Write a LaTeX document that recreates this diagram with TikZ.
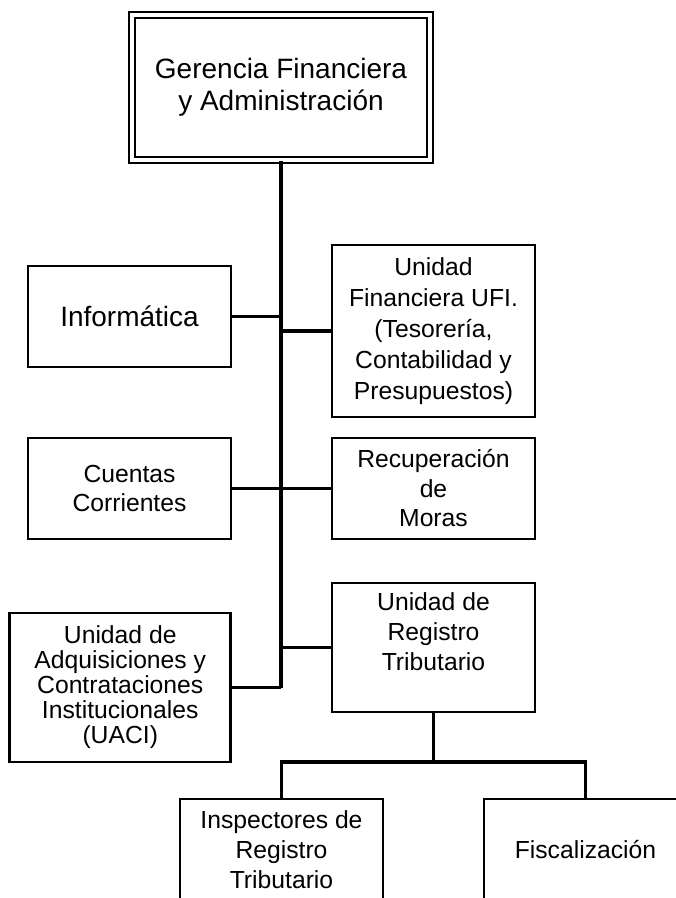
\documentclass[tikz,border=0pt]{standalone}
\usepackage{fontspec}
\setmainfont{Liberation Sans}
\begin{document}
\begin{tikzpicture}[x=1pt,y=-1pt,
  unit/.style={draw, rectangle, line width=2.8pt, align=center, inner sep=0pt,
               minimum width=203pt},
  link/.style={line width=3.1pt},
  bigtext/.style={font=\fontsize{28}{32}\selectfont},
  midtext/.style={font=\fontsize{24.7}{#1}\selectfont}]
\useasboundingbox (0,0) rectangle (676,898);
\clip (0,0) rectangle (676,898);

% head office, double frame
\node[draw, double, line width=2.4pt, double distance=3.6pt, align=center,
      minimum width=298pt, minimum height=145pt, inner sep=0pt, bigtext]
      (ger) at (281,87.5) {Gerencia Financiera\\y Administración};

% units hanging from the trunk
\node[unit, bigtext, minimum height=101pt] (inf) at (129.5,316.5) {Informática};
\node[unit, midtext=31, minimum height=172pt] (ufi) at (433.5,331)
      {Unidad\\Financiera UFI.\\(Tesorería,\\Contabilidad y\\Presupuestos)};
\node[unit, midtext=29, minimum height=101pt] (cue) at (129.5,488.5)
      {Cuentas\\Corrientes};
\node[unit, midtext=29.5, minimum height=101pt] (rec) at (433.5,488.5)
      {Recuperación\\de\\Moras};
\node[unit, midtext=30, minimum height=129pt] (urt) at (433.5,647.5)
      {Unidad de\\Registro\\Tributario\rule[-31pt]{0pt}{31pt}};
\node[unit, midtext=25, minimum width=221pt, minimum height=149pt] (uaci) at (120.25,687.5)
      {Unidad de\\Adquisiciones y\\Contrataciones\\Institucionales\\(UACI)};

% sub-units of the tax register
\node[unit, midtext=30, minimum height=102pt] (ins) at (281.5,850)
      {Inspectores de\\Registro\\Tributario};
\node[unit, midtext=30, minimum height=102pt] (fis) at (585.5,850)
      {Fiscalización};

% connectors
\draw[link] (ger.south) -- (ger.south |- uaci.east);
\draw[link] (inf.east) -- (inf.east -| ger.south);
\draw[link] (ufi.west) -- (ufi.west -| ger.south);
\draw[link] (cue.east) -- (rec.west);
\draw[link] (urt.west) -- (urt.west -| ger.south);
\draw[link] (uaci.east) -- (uaci.east -| ger.south);

\coordinate (fork) at (433.5,762);
\draw[link] (urt.south) -- (fork);
\draw[link] (ins.north) -- (ins.north |- fork) -- (fis.north |- fork) -- (fis.north);
\end{tikzpicture}
\end{document}
